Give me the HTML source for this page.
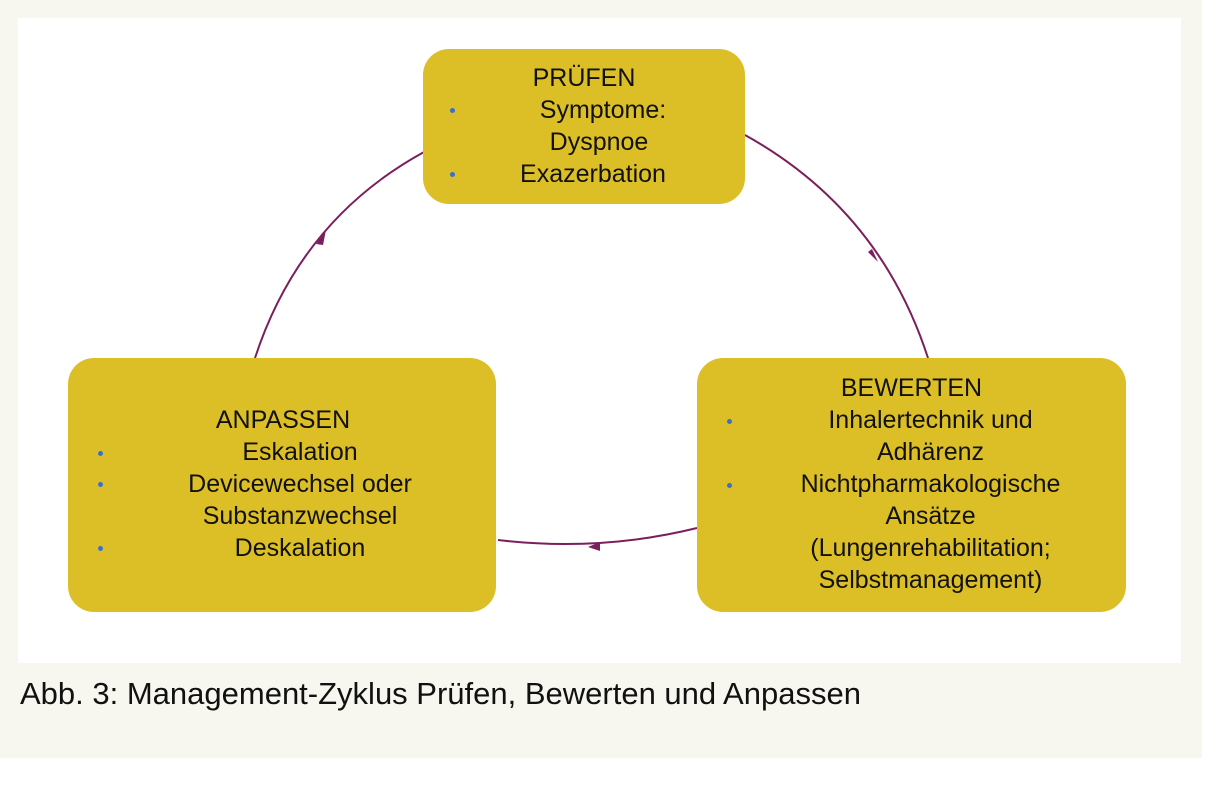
<!DOCTYPE html>
<html><head><meta charset="utf-8"><style>
body{margin:0;width:1231px;height:794px;background:#fff;position:relative;overflow:hidden;font-family:"Liberation Sans",sans-serif}
.bg{position:absolute;left:0;top:0;width:1202px;height:758px;background:#f7f7ef}
.panel{position:absolute;left:18px;top:18px;width:1163px;height:645px;background:#fff}
.box{position:absolute;background:#dcbf27;border-radius:26px;color:#111;font-size:25px;line-height:31px}
.box div{position:absolute;left:0;right:0;text-align:center;white-space:nowrap}
.dot{position:absolute;width:5px;height:5px;border-radius:50%;background:#3a6fd0}
.cap{position:absolute;left:20px;top:676px;font-size:31px;color:#111}
</style></head><body>
<div class="bg"></div><div class="panel"></div>
<svg width="1231" height="794" style="position:absolute;left:0;top:0">
<g fill="none" stroke="#7a1f5c" stroke-width="2">
<path d="M255 358 Q300 220 424 152"/>
<path d="M745 135 Q880 210 928 358"/>
<path d="M697 528 Q600 552 498 540"/>
</g>
<g fill="#7a1f5c">
<polygon points="326,230 316,244 323,245"/>
<polygon points="878,262 868,252 872,249"/>
<polygon points="588,547 600,542 600,551"/>
</g>
</svg>
<div class="box" style="left:423px;top:49px;width:322px;height:155px">
<div style="top:14px">PRÜFEN</div>
<div style="top:46px;left:38px">Symptome:</div>
<div style="top:78px;left:30px">Dyspnoe</div>
<div style="top:110px;left:18px">Exazerbation</div>
<span class="dot" style="left:27px;top:59px"></span>
<span class="dot" style="left:27px;top:123px"></span>
</div>
<div class="box" style="left:68px;top:358px;width:428px;height:254px">
<div style="top:47px;left:2px">ANPASSEN</div>
<div style="top:79px;left:36px">Eskalation</div>
<div style="top:111px;left:36px">Devicewechsel oder</div>
<div style="top:143px;left:36px">Substanzwechsel</div>
<div style="top:175px;left:36px">Deskalation</div>
<span class="dot" style="left:30px;top:93px"></span>
<span class="dot" style="left:30px;top:124px"></span>
<span class="dot" style="left:30px;top:188px"></span>
</div>
<div class="box" style="left:697px;top:358px;width:429px;height:254px">
<div style="top:15px">BEWERTEN</div>
<div style="top:47px;left:38px">Inhalertechnik und</div>
<div style="top:79px;left:38px">Adhärenz</div>
<div style="top:111px;left:38px">Nichtpharmakologische</div>
<div style="top:143px;left:38px">Ansätze</div>
<div style="top:175px;left:38px">(Lungenrehabilitation;</div>
<div style="top:207px;left:38px">Selbstmanagement)</div>
<span class="dot" style="left:30px;top:61px"></span>
<span class="dot" style="left:30px;top:125px"></span>
</div>
<div class="cap">Abb. 3: Management-Zyklus Prüfen, Bewerten und Anpassen</div>
</body></html>
